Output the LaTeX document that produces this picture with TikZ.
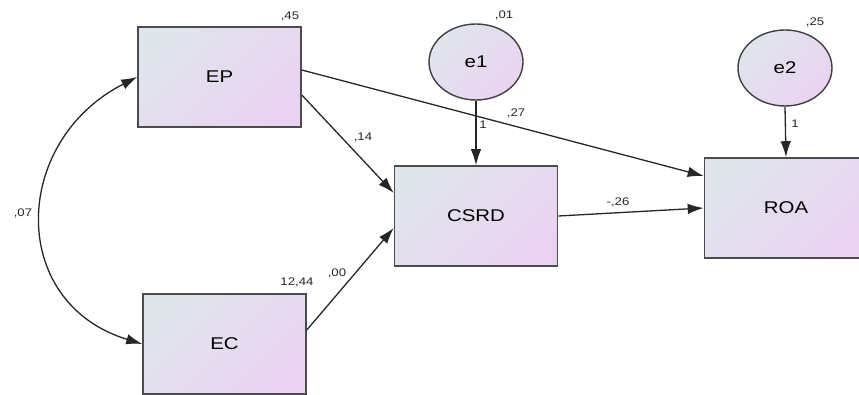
\documentclass[tikz,border=0pt]{standalone}
\usepackage{fontspec}
\setmainfont[FakeStretch=1.2]{Liberation Sans}
\usetikzlibrary{arrows.meta,shapes.geometric}

\definecolor{boxtop}{HTML}{E0E5EC}
\definecolor{boxbot}{HTML}{EAD3F2}

\tikzset{
    obsvar/.style={rectangle, draw=black!70, line width=1.6pt,
        top color=boxtop, bottom color=boxbot, shading angle=45,
        minimum width=163pt, minimum height=100pt, inner sep=0pt,
        font=\fontsize{17}{17}\selectfont},
    errvar/.style={ellipse, draw=black!75, line width=1.4pt,
        top color=boxtop, bottom color=boxbot, shading angle=45,
        minimum width=94pt, minimum height=76pt, inner sep=0pt,
        font=\fontsize{17}{17}\selectfont},
    regarrow/.style={draw=black!85, line width=1.3pt, -{Latex[length=16pt,width=10.5pt]}},
    covarrow/.style={draw=black!85, line width=1.3pt,
        {Latex[length=16pt,width=10.5pt]}-{Latex[length=16pt,width=10.5pt]}},
    val/.style={inner sep=0pt, text=black!85, font=\fontsize{11}{11}\selectfont}
}

\begin{document}
\begin{tikzpicture}[x=1pt,y=1pt]
    \useasboundingbox (0,0) rectangle (859,394);

    % observed variables
    \node[obsvar] (EP) at (219.5,317) {EP};
    \node[obsvar] (EC) at (224.5,50) {EC};
    \node[obsvar] (CSRD) at (476,178) {CSRD};
    \node[obsvar] (ROA) at (786,186) {ROA};

    % error terms
    \node[errvar] (e1) at (476,332) {e1};
    \node[errvar] (e2) at (785,326) {e2};

    % regression weights
    \draw[regarrow] ([yshift=7pt]EP.east) -- ([yshift=32pt]ROA.west);
    \draw[regarrow] ([yshift=-18pt]EP.east) -- ([yshift=23pt]CSRD.west);
    \draw[regarrow] ([yshift=14pt]EC.east) -- ([yshift=-12pt]CSRD.west);
    \draw[regarrow] (CSRD.east) -- (ROA.west);
    \draw[regarrow] (e1.south) -- (CSRD.north);
    \draw[regarrow] (e2.south) -- (ROA.north);

    % covariance between EP and EC
    \draw[covarrow] (EP.west) to[out=207,in=163,looseness=1.35] (EC.west);

    % estimates
    \node[val] (vEP) at (290,378) {,45};
    \node[val] (ve1) at (504,379) {,01};
    \node[val] (ve2) at (815,372) {,25};
    \node[val] (vEC) at (297,112) {12,44};
    \node[val] (wEPROA) at (516,281) {,27};
    \node[val] (wEPCSRD) at (363,257) {,14};
    \node[val] (wECCSRD) at (337,121) {,00};
    \node[val] (wCSRDROA) at (618,192) {-,26};
    \node[val] (we1) at (483,269) {1};
    \node[val] (we2) at (795,270) {1};
    \node[val] (cEPEC) at (23,181) {,07};
\end{tikzpicture}
\end{document}
